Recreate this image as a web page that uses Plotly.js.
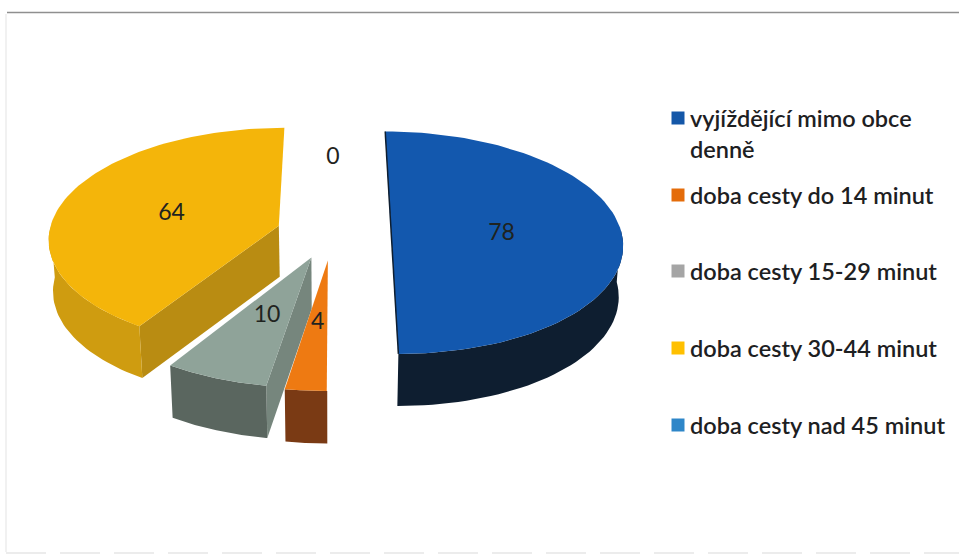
<!DOCTYPE html>
<html><head><meta charset="utf-8">
<script src="https://cdn.plot.ly/plotly-3.0.1.min.js"></script>
<style>html,body{margin:0;padding:0;background:#fff}</style>
</head><body><div id="chart" style="width:959px;height:554px"></div>
<script>
// data
const categories = ["vyjíždějící mimo obce\ndenně","doba cesty do 14 minut","doba cesty 15-29 minut","doba cesty 30-44 minut","doba cesty nad 45 minut"];
const values = [78,4,10,64,0];
// styles
const topColors = ["#1358ae","#ee7a12","#8fa399","#f4b50a","#2e86c8"];
const outerColors = ["#0e1e30","#7a3a14","#5a665f","#cf9c10","#1c5a8c"];
const startWallColors = [null,null,"#76867d","#b98c12",null];
const edgeColors = ["#0e1e30",null,null,null,null];
const keyColors = ["#1457a8","#e46c0a","#a5a5a5","#ffc000","#2e86c8"];
const sliceNudgeX = [-4,0,1,5,0];
const sliceNudgeY = [0,-1,-2,3,0];
const labelFracs = [0.48,0.49,0.49,0.50,0.47];
// projection of the tilted disc
const cx=333, cy=231, rx=230, ry=110, k=0.105, explode=0.27, depth=51, bottomScale=0.985, firstAngle=0, labelShift=3;
const total = values.reduce((a,b)=>a+b,0);
const rad = d=>d*Math.PI/180;
function project(ang, f, mid, i, bottom){
  const wx = explode*Math.sin(rad(mid)) + f*Math.sin(rad(ang));
  const wv = -explode*Math.cos(rad(mid)) - f*Math.cos(rad(ang));
  const w = 1-k*wv;
  let X = rx*wx/w, Y = ry*wv/w;
  if(bottom){ X*=bottomScale; Y = Y*bottomScale + depth + 3*wv; }
  return [cx+X+sliceNudgeX[i], cy+Y+sliceNudgeY[i]];
}
function poly(pts,color,name){
  return {type:"scatter",mode:"lines",x:pts.map(p=>p[0]).concat(pts[0][0]),y:pts.map(p=>p[1]).concat(pts[0][1]),
    fill:"toself",fillcolor:color,line:{width:0,color:color},hoverinfo:"skip",showlegend:false,name:name};
}
const traces=[];
const layers=[];
let acc=firstAngle;
const labelX=[],labelY=[];
values.forEach((v,i)=>{
  const span=v/total*360, a0=acc, a1=acc+span, mid=(a0+a1)/2; acc=a1;
  const L=project(mid,labelFracs[i],mid,i,false); labelX.push(L[0]); labelY.push(L[1]+labelShift);
  if(v===0) return;
  const angs=[]; for(let t=0;t<=90;t++) angs.push(a0+span*t/90);
  const topArc=angs.map(a=>project(a,1,mid,i,false));
  // only the near half of the rim can be seen
  const nearAngs=angs.filter(a=>Math.cos(rad(a))<0.02);
  const nearTop=nearAngs.map(a=>project(a,1,mid,i,false));
  const nearBot=nearAngs.map(a=>project(a,1,mid,i,true));
  const apex=project(0,0,mid,i,false), apexB=project(0,0,mid,i,true);
  const g=[];
  if(startWallColors[i]) g.push(poly([apex,topArc[0],project(a0,1,mid,i,true),apexB],startWallColors[i],categories[i]));
  g.push(poly(nearTop.concat(nearBot.slice().reverse()),outerColors[i],categories[i]));
  g.push(poly([apex].concat(topArc),topColors[i],categories[i]));
  if(edgeColors[i]) g.push({type:"scatter",mode:"lines",x:[topArc[0][0],topArc[90][0]],y:[topArc[0][1],topArc[90][1]],
    line:{color:edgeColors[i],width:1.5},hoverinfo:"skip",showlegend:false,name:categories[i]});
  layers.push(g);
});
layers.reverse().forEach(g=>g.forEach(t=>traces.push(t)));
// data labels
traces.push({type:"scatter",mode:"text",x:labelX,y:labelY,text:values.map(String),textposition:"middle center",
  textfont:{family:"Lato, Carlito, sans-serif",size:23,color:"#1f2320"},hoverinfo:"skip",showlegend:false});
// legend
const keyX=678, textX=690, keyY=[118,195,271,348,425], lineGap=31;
traces.push({type:"scatter",mode:"markers",x:keyY.map(()=>keyX),y:keyY,marker:{symbol:"square",size:13,color:keyColors},hoverinfo:"skip",showlegend:false});
const annotations=[];
categories.forEach((c,i)=>c.split("\n").forEach((line,j)=>annotations.push({
  x:textX,y:keyY[i]+j*lineGap,xref:"x",yref:"y",text:line,showarrow:false,xanchor:"left",yanchor:"middle",xshift:-2,
  font:{family:"Lato, sans-serif",size:23.5,color:"#1d2022",weight:600}})));
const layout={width:959,height:554,margin:{l:0,r:0,t:0,b:0},paper_bgcolor:"#fff",plot_bgcolor:"#fff",showlegend:false,
  xaxis:{range:[0,959],visible:false,fixedrange:true},yaxis:{range:[554,0],visible:false,fixedrange:true},
  annotations:annotations,
  shapes:[
   {type:"line",xref:"x",yref:"y",x0:7,x1:959,y0:12.5,y1:12.5,line:{color:"#8f8f8f",width:1.5}},
   {type:"line",xref:"x",yref:"y",x0:6,x1:6,y0:14,y1:552,line:{color:"#f1f1f1",width:2}},
   {type:"line",xref:"x",yref:"y",x0:6,x1:959,y0:553,y1:553,line:{color:"#ececec",width:2,dash:"40px 14px"}}
  ]};
Plotly.newPlot("chart",traces,layout,{displayModeBar:false,staticPlot:true});
</script></body></html>
